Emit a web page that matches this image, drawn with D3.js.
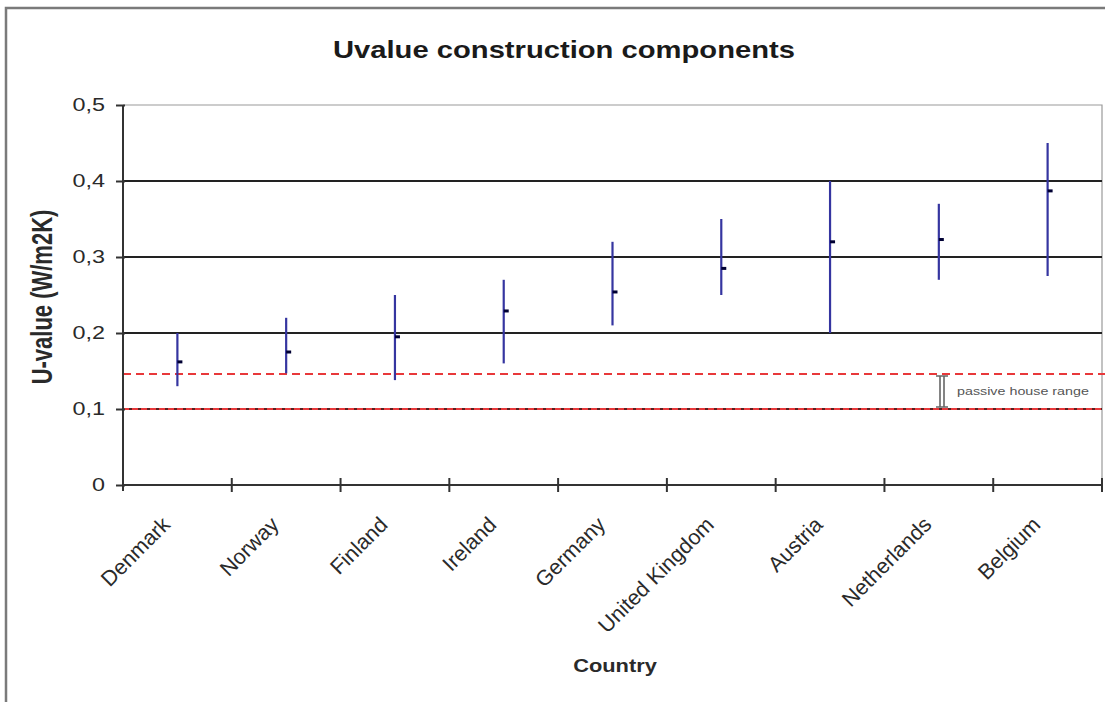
<!DOCTYPE html>
<html>
<head>
<meta charset="utf-8">
<script src="https://cdn.jsdelivr.net/npm/d3@7"></script>
<style>
  html, body { margin: 0; padding: 0; background: #fff; }
  svg { display: block; font-family: "Liberation Sans", Arial, sans-serif; }
</style>
</head>
<body>
<svg id="chart" width="1105" height="702"></svg>
<script>
// ---- data ----
const countries = ["Denmark", "Norway", "Finland", "Ireland", "Germany", "United Kingdom", "Austria", "Netherlands", "Belgium"];
const values = [0.162, 0.175, 0.195, 0.229, 0.254, 0.285, 0.320, 0.323, 0.387];
const lows   = [0.130, 0.147, 0.138, 0.160, 0.210, 0.250, 0.200, 0.270, 0.275];
const highs  = [0.200, 0.220, 0.250, 0.270, 0.320, 0.350, 0.400, 0.370, 0.450];
const yTicks = [0, 0.1, 0.2, 0.3, 0.4, 0.5];
const yTickLabels = ["0", "0,1", "0,2", "0,3", "0,4", "0,5"];
const passiveRange = [0.1, 0.146];
const title = "Uvalue construction components";
const xTitle = "Country";
const yTitle = "U-value (W/m2K)";
const annotation = "passive house range";

// ---- layout ----
const svg = d3.select("#chart");
const L = 123, R = 1102, T = 105, B = 485;
const SX = 1.3; // horizontal stretch of the original picture

const x = d3.scaleBand().domain(countries).range([L, R]).paddingInner(0).paddingOuter(0);
const y = d3.scaleLinear().domain([0, 0.5]).range([B, T]);

// outer frame (left and top visible)
svg.append("path")
  .attr("d", `M6,702 V8 H1105`)
  .attr("fill", "none").attr("stroke", "#7a7a7a").attr("stroke-width", 2.5);

// plot area border (top + right, gray)
svg.append("path")
  .attr("d", `M${L},${y(0.5)} H${R} V${B}`)
  .attr("fill", "none").attr("stroke", "#9a9a9a").attr("stroke-width", 1.2);

// gridlines
svg.append("g").selectAll("line")
  .data(yTicks.filter(v => v > 0 && v < 0.5))
  .join("line")
  .attr("x1", L).attr("x2", R)
  .attr("y1", d => y(d)).attr("y2", d => y(d))
  .attr("stroke", d => d === 0.1 ? "#5a2020" : "#222")
  .attr("stroke-width", 1.8);

// passive house range lines (red dashed)
svg.append("g").selectAll("line")
  .data(passiveRange)
  .join("line")
  .attr("x1", L).attr("x2", d => d === 0.1 ? R : 1105)
  .attr("y1", d => y(d)).attr("y2", d => y(d))
  .attr("stroke", "#e8383a")
  .attr("stroke-width", 2)
  .attr("stroke-dasharray", d => d === 0.1 ? "6,3" : "8,5");

// y axis
const yAxis = d3.axisLeft(y).tickValues(yTicks).tickSize(7).tickFormat((d, i) => yTickLabels[i]);
const gy = svg.append("g").attr("transform", `translate(${L},0)`).call(yAxis);
gy.select(".domain").attr("stroke", "#333").attr("stroke-width", 2).attr("d", `M0,${T}V${B + 6}`);
gy.selectAll(".tick line").attr("stroke", "#333").attr("stroke-width", 2).attr("x1", 2);
gy.selectAll(".tick text").remove();
svg.append("g").selectAll("text")
  .data(yTicks)
  .join("text")
  .attr("transform", d => `translate(105,${y(d)}) scale(${SX},1)`)
  .attr("dy", "0.36em")
  .attr("text-anchor", "end")
  .attr("font-size", 18)
  .attr("fill", "#2a2a2a")
  .text((d, i) => yTickLabels[i]);

// x axis (ticks at band boundaries)
const boundaries = countries.map(c => x(c)).concat([R]);
svg.append("line")
  .attr("x1", L).attr("x2", R).attr("y1", B).attr("y2", B)
  .attr("stroke", "#333").attr("stroke-width", 2);
svg.append("g").selectAll("line")
  .data(boundaries.slice(1))
  .join("line")
  .attr("x1", d => d).attr("x2", d => d)
  .attr("y1", B - 7).attr("y2", B + 7)
  .attr("stroke", "#333").attr("stroke-width", 2);

// x tick labels
svg.append("g").selectAll("text")
  .data(countries)
  .join("text")
  .attr("transform", d => `translate(${x(d) + x.bandwidth() / 2 - 6},526) rotate(-45)`)
  .attr("text-anchor", "end")
  .attr("font-size", 21.5)
  .attr("fill", "#2a2a2a")
  .text(d => d);

// error bars
const cx = d => x(d) + x.bandwidth() / 2;
svg.append("g").selectAll("line")
  .data(countries)
  .join("line")
  .attr("x1", d => cx(d)).attr("x2", d => cx(d))
  .attr("y1", (d, i) => y(highs[i])).attr("y2", (d, i) => y(lows[i]))
  .attr("stroke", "#3535a0").attr("stroke-width", 2.2);

// markers (dash)
svg.append("g").selectAll("rect")
  .data(countries)
  .join("rect")
  .attr("x", d => cx(d))
  .attr("y", (d, i) => y(values[i]) - 1.5)
  .attr("width", 5).attr("height", 3)
  .attr("fill", "#000033");

// passive house range bracket + text
const by1 = y(passiveRange[1]) + 2, by2 = y(passiveRange[0]) - 2, bx = 942;
svg.append("path")
  .attr("d", `M${bx - 6},${by1} H${bx + 6} M${bx - 6},${by2} H${bx + 6} M${bx - 2},${by1} V${by2} M${bx + 2},${by1} V${by2}`)
  .attr("fill", "none").attr("stroke", "#666").attr("stroke-width", 1.6);
svg.append("text")
  .attr("transform", `translate(957,${(by1 + by2) / 2}) scale(${SX},1)`)
  .attr("dy", "0.35em")
  .attr("font-size", 11)
  .attr("fill", "#555")
  .text(annotation);

// titles
svg.append("text")
  .attr("x", 564).attr("y", 58)
  .attr("text-anchor", "middle")
  .attr("font-size", 24).attr("font-weight", "bold")
  .attr("fill", "#1a1a1a")
  .attr("textLength", 462).attr("lengthAdjust", "spacingAndGlyphs")
  .text(title);

svg.append("text")
  .attr("transform", `translate(615,672) scale(1.15,1)`)
  .attr("text-anchor", "middle")
  .attr("font-size", 19).attr("font-weight", "bold")
  .attr("fill", "#2a2a2a")
  .text(xTitle);

svg.append("text")
  .attr("transform", `translate(52,297) scale(${SX},1) rotate(-90)`)
  .attr("text-anchor", "middle")
  .attr("font-size", 22).attr("font-weight", "bold")
  .attr("fill", "#2a2a2a")
  .text(yTitle);
</script>
</body>
</html>
